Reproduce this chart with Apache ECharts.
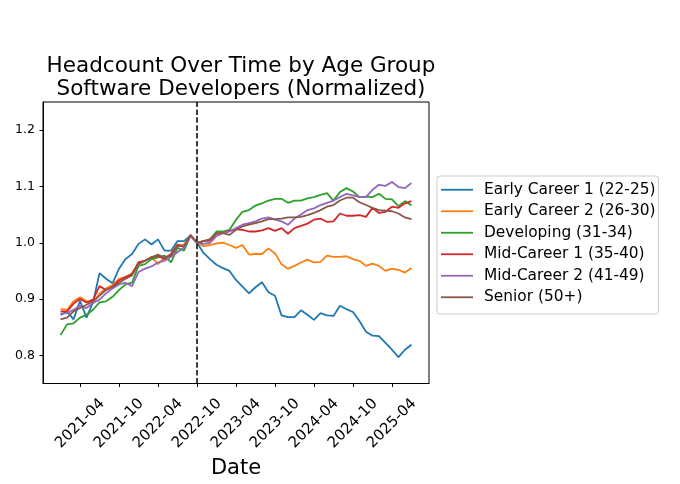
<!DOCTYPE html>
<html>
<head>
<meta charset="utf-8">
<title>Headcount Over Time by Age Group</title>
<script src="https://cdn.jsdelivr.net/npm/echarts@6.0.0/dist/echarts.min.js"></script>
<style>
  html, body { margin: 0; padding: 0; background: #fff; }
  #chart { width: 680px; height: 484px; }
</style>
</head>
<body>
<div id="chart"></div>
<script>
// monthly points, 2021-01 .. 2025-07
const months = [
  '2021-01', '2021-02', '2021-03', '2021-04', '2021-05', '2021-06', '2021-07', '2021-08', '2021-09', '2021-10', '2021-11', '2021-12',
  '2022-01', '2022-02', '2022-03', '2022-04', '2022-05', '2022-06', '2022-07', '2022-08', '2022-09', '2022-10', '2022-11', '2022-12',
  '2023-01', '2023-02', '2023-03', '2023-04', '2023-05', '2023-06', '2023-07', '2023-08', '2023-09', '2023-10', '2023-11', '2023-12',
  '2024-01', '2024-02', '2024-03', '2024-04', '2024-05', '2024-06', '2024-07', '2024-08', '2024-09', '2024-10', '2024-11', '2024-12',
  '2025-01', '2025-02', '2025-03', '2025-04', '2025-05', '2025-06', '2025-07'
]
const tickMonths = ['2021-04', '2021-10', '2022-04', '2022-10', '2023-04', '2023-10', '2024-04', '2024-10', '2025-04']
const yTicks = [0.8, 0.9, 1.0, 1.1, 1.2]
const baseMonth = '2022-10'

const seriesNames = [
  'Early Career 1 (22-25)',
  'Early Career 2 (26-30)',
  'Developing (31-34)',
  'Mid-Career 1 (35-40)',
  'Mid-Career 2 (41-49)',
  'Senior (50+)'
]

const early1 = [
  0.872, 0.878, 0.864, 0.897, 0.867, 0.894, 0.946, 0.936, 0.928, 0.954, 0.971, 0.980,
  0.998, 1.006, 0.997, 1.006, 0.986, 0.986, 1.003, 1.003, 1.013, 1.000, 0.982, 0.971,
  0.961, 0.955, 0.950, 0.934, 0.922, 0.910, 0.921, 0.930, 0.912, 0.906, 0.871, 0.868,
  0.868, 0.880, 0.872, 0.863, 0.875, 0.871, 0.870, 0.888, 0.882, 0.877, 0.861, 0.842,
  0.835, 0.834, 0.822, 0.810, 0.797, 0.810, 0.819
]
const early2 = [
  0.882, 0.881, 0.896, 0.903, 0.896, 0.894, 0.910, 0.919, 0.925, 0.936, 0.939, 0.946,
  0.965, 0.968, 0.975, 0.962, 0.974, 0.979, 0.994, 0.997, 1.013, 1.000, 0.994, 0.996,
  0.999, 1.000, 0.996, 0.991, 0.996, 0.979, 0.980, 0.980, 0.990, 0.981, 0.962, 0.954,
  0.959, 0.965, 0.970, 0.965, 0.966, 0.977, 0.975, 0.975, 0.976, 0.971, 0.968, 0.959,
  0.963, 0.959, 0.950, 0.954, 0.952, 0.947, 0.955
]
const developing = [
  0.836, 0.855, 0.857, 0.867, 0.872, 0.881, 0.894, 0.896, 0.904, 0.916, 0.926, 0.929,
  0.959, 0.962, 0.971, 0.974, 0.977, 0.965, 0.991, 0.986, 1.013, 1.000, 1.003, 1.006,
  1.020, 1.020, 1.023, 1.041, 1.055, 1.058, 1.066, 1.070, 1.075, 1.078, 1.078, 1.071,
  1.075, 1.075, 1.079, 1.081, 1.085, 1.088, 1.075, 1.090, 1.097, 1.091, 1.081, 1.082,
  1.081, 1.087, 1.078, 1.077, 1.065, 1.074, 1.066
]
const mid1 = [
  0.878, 0.878, 0.892, 0.900, 0.894, 0.899, 0.923, 0.916, 0.922, 0.933, 0.939, 0.944,
  0.965, 0.968, 0.974, 0.977, 0.971, 0.980, 0.997, 0.992, 1.014, 1.000, 1.003, 1.004,
  1.016, 1.017, 1.021, 1.024, 1.023, 1.020, 1.020, 1.022, 1.026, 1.021, 1.026, 1.016,
  1.026, 1.030, 1.034, 1.041, 1.043, 1.037, 1.038, 1.052, 1.048, 1.048, 1.049, 1.046,
  1.062, 1.053, 1.055, 1.064, 1.062, 1.070, 1.074
]
const mid2 = [
  0.874, 0.875, 0.881, 0.888, 0.884, 0.893, 0.899, 0.910, 0.919, 0.926, 0.929, 0.923,
  0.948, 0.954, 0.958, 0.965, 0.968, 0.975, 0.983, 0.991, 1.012, 1.000, 0.998, 1.000,
  1.012, 1.017, 1.020, 1.026, 1.032, 1.035, 1.038, 1.043, 1.045, 1.041, 1.038, 1.032,
  1.043, 1.050, 1.058, 1.061, 1.067, 1.071, 1.075, 1.081, 1.087, 1.084, 1.081, 1.081,
  1.094, 1.103, 1.101, 1.108, 1.099, 1.097, 1.106
]
const senior = [
  0.864, 0.867, 0.878, 0.884, 0.890, 0.896, 0.906, 0.916, 0.922, 0.929, 0.936, 0.942,
  0.962, 0.968, 0.974, 0.979, 0.973, 0.977, 0.994, 0.994, 1.013, 1.000, 1.003, 1.006,
  1.017, 1.017, 1.014, 1.023, 1.029, 1.032, 1.035, 1.038, 1.042, 1.042, 1.043, 1.045,
  1.045, 1.046, 1.049, 1.053, 1.058, 1.064, 1.067, 1.075, 1.080, 1.080, 1.072, 1.067,
  1.062, 1.058, 1.057, 1.056, 1.052, 1.045, 1.042
]

const seriesValues = [early1, early2, developing, mid1, mid2, senior]
const colors = ['#1f77b4', '#ff7f0e', '#2ca02c', '#d62728', '#9467bd', '#8c564b']
const fontFamily = 'DejaVu Sans'

const chart = echarts.init(document.getElementById('chart'))

const series = seriesNames.map((name, k) => ({
  name,
  type: 'line',
  data: seriesValues[k].map((v, i) => [i, v]),
  symbol: 'none',
  showSymbol: false,
  color: colors[k],
  lineStyle: { width: 1.8, color: colors[k] },
  z: 2 + k
}))

// dashed reference line at the normalisation month
series[series.length - 1].markLine = {
  silent: true,
  symbol: 'none',
  label: { show: false },
  lineStyle: { color: '#000', type: [5.5, 2.4], width: 1.5 },
  data: [{ xAxis: months.indexOf(baseMonth) }],
  z: 20
}

chart.setOption({
  animation: false,
  backgroundColor: '#fff',
  title: {
    text: 'Headcount Over Time by Age Group\nSoftware Developers (Normalized)',
    left: 236,
    top: 50,
    textAlign: 'center',
    textStyle: { fontFamily, fontSize: 21.5, lineHeight: 23, fontWeight: 'normal', color: '#000' }
  },
  legend: {
    orient: 'vertical',
    left: 437,
    top: 176,
    icon: 'rect',
    itemWidth: 32,
    itemHeight: 1.8,
    itemGap: 0,
    padding: [3, 3, 6, 4],
    borderColor: '#cccccc',
    borderWidth: 1,
    borderRadius: 3,
    backgroundColor: '#fff',
    textStyle: { fontFamily, fontSize: 15.4, lineHeight: 21.5, color: '#000', padding: [0, 0, 0, 6] },
    data: seriesNames
  },
  grid: {
    left: 43,
    top: 102,
    width: 386,
    height: 287,
    show: true,
    borderColor: '#000',
    borderWidth: 1,
    containLabel: false
  },
  xAxis: {
    type: 'value',
    min: -2.7,
    max: 56.7,
    name: 'Date',
    nameLocation: 'middle',
    nameGap: 75,
    nameTextStyle: { fontFamily, fontSize: 21, color: '#000', verticalAlign: 'middle' },
    splitLine: { show: false },
    axisLine: { onZero: false, lineStyle: { color: '#000', width: 1 } },
    axisTick: {
      customValues: tickMonths.map(m => months.indexOf(m)),
      length: 3.5,
      lineStyle: { color: '#000' }
    },
    axisLabel: {
      customValues: tickMonths.map(m => months.indexOf(m)),
      formatter: v => months[Math.round(v)],
      rotate: 45,
      align: 'center',
      verticalAlign: 'middle',
      margin: 40,
      fontFamily,
      fontSize: 15,
      color: '#000'
    }
  },
  yAxis: {
    type: 'value',
    min: 0.75,
    max: 1.25,
    splitLine: { show: false },
    axisLine: { show: true, onZero: false, lineStyle: { color: '#000', width: 1 } },
    axisTick: { show: true, customValues: yTicks, length: 3.5, lineStyle: { color: '#000' } },
    axisLabel: {
      customValues: yTicks,
      formatter: v => v.toFixed(1),
      margin: 8,
      fontFamily,
      fontSize: 12.5,
      color: '#000'
    }
  },
  series
})
</script>
</body>
</html>
